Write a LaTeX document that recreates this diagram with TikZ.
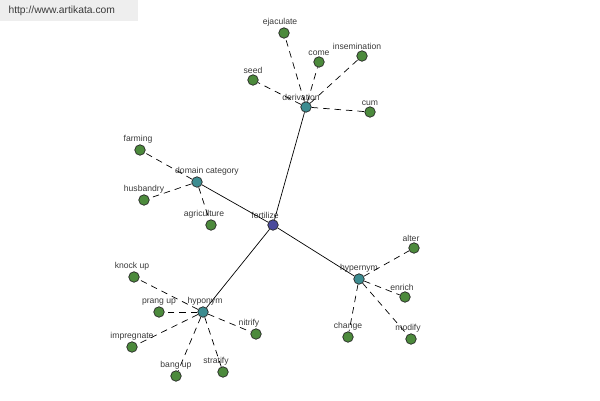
\documentclass[tikz,border=0pt]{standalone}
\usepackage{fontspec}
\setmainfont{Liberation Sans}
\usetikzlibrary{positioning}
\definecolor{leafgreen}{HTML}{4C8A3C}
\definecolor{hubteal}{HTML}{3C8C90}
\definecolor{rootblue}{HTML}{4A4A9C}
\definecolor{labelgray}{HTML}{3A3A3A}
\definecolor{bannergray}{HTML}{EEEEEE}

\begin{document}
\begin{tikzpicture}
    [x=1pt, y=-1pt,
    vertex/.style={circle, draw=black!85, line width=0.7pt, inner sep=0pt, minimum size=10.5pt},
    leaf/.style={vertex, fill=leafgreen},
    hub/.style={vertex, fill=hubteal},
    root/.style={vertex, fill=rootblue},
    every label/.style={font=\fontsize{8.6}{9}\selectfont, text=labelgray, inner sep=1pt},
    label distance=0pt,
    link/.style={line width=0.7pt},
    dlink/.style={line width=0.7pt, dash pattern=on 6.5pt off 5pt}]
        \useasboundingbox (0,0) rectangle (600,400);
        %% Banner
        \fill[bannergray] (0,0) rectangle (138,21);
        \node[anchor=west, font=\fontsize{10.3}{11}\selectfont, text=labelgray] (site) at (5,11) {http://www.artikata.com};

        %% Centre and relation nodes
        \node[root, label={[xshift=-8pt]above:fertilize}] (fert) at (273,225) {};
        \node[hub, label={[xshift=-5pt]above:derivation}] (deriv) at (306,107) {};
        \node[hub, label={[xshift=10pt]above:domain category}] (domcat) at (197,182) {};
        \node[hub, label={above:hypernym}] (hyper) at (359,279) {};
        \node[hub, label={[xshift=2pt]above:hyponym}] (hypo) at (203,312) {};

        %% Derivation
        \node[leaf, label={[xshift=-4pt]above:ejaculate}] (ejac) at (284,33) {};
        \node[leaf, label={above:come}] (come) at (319,62) {};
        \node[leaf, label={[xshift=-5pt]above:insemination}] (insem) at (362,56) {};
        \node[leaf, label={above:seed}] (seed) at (253,80) {};
        \node[leaf, label={above:cum}] (cum) at (370,112) {};

        %% Domain category
        \node[leaf, label={[xshift=-2pt]above:farming}] (farm) at (140,150) {};
        \node[leaf, label={above:husbandry}] (husb) at (144,200) {};
        \node[leaf, label={[xshift=-7pt]above:agriculture}] (agri) at (211,225) {};

        %% Hypernym
        \node[leaf, label={[xshift=-3pt]above:alter}] (alter) at (414,248) {};
        \node[leaf, label={[xshift=-3pt]above:enrich}] (enrich) at (405,297) {};
        \node[leaf, label={above:change}] (change) at (348,337) {};
        \node[leaf, label={[xshift=-3pt]above:modify}] (modify) at (411,339) {};

        %% Hyponym
        \node[leaf, label={[xshift=-2pt]above:knock up}] (knock) at (134,277) {};
        \node[leaf, label={above:prang up}] (prang) at (159,312) {};
        \node[leaf, label={above:impregnate}] (impreg) at (132,347) {};
        \node[leaf, label={above:bang up}] (bang) at (176,376) {};
        \node[leaf, label={[xshift=-7pt]above:stratify}] (strat) at (223,372) {};
        \node[leaf, label={[xshift=-7pt]above:nitrify}] (nitr) at (256,334) {};

        \draw[link] (fert) to (deriv);
        \draw[link] (fert) to (domcat);
        \draw[link] (fert) to (hyper);
        \draw[link] (fert) to (hypo);

        \foreach \leafname in {ejac, come, insem, seed, cum}
            \draw[dlink] (deriv) to (\leafname);
        \foreach \leafname in {farm, husb, agri}
            \draw[dlink] (domcat) to (\leafname);
        \foreach \leafname in {alter, enrich, change, modify}
            \draw[dlink] (hyper) to (\leafname);
        \foreach \leafname in {knock, prang, impreg, bang, strat, nitr}
            \draw[dlink] (hypo) to (\leafname);
    \end{tikzpicture}
\end{document}
